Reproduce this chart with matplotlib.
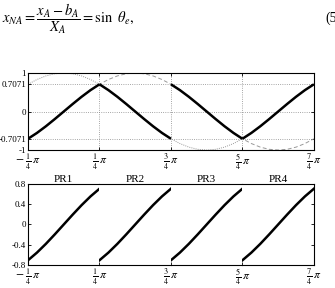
import numpy as np
import matplotlib
matplotlib.use("Agg")
import matplotlib.pyplot as plt

plt.rcParams['font.family'] = ['Liberation Serif', 'DejaVu Serif']
plt.rcParams['mathtext.fontset'] = 'stix'

# x samples in units of pi/16, from -pi/4 to 7pi/4
k_steps = list(range(-4, 29))
sin_curve = [-0.707, -0.556, -0.383, -0.195, 0.0, 0.195, 0.383, 0.556, 0.707,
             0.831, 0.924, 0.981, 1.0, 0.981, 0.924, 0.831, 0.707,
             0.556, 0.383, 0.195, 0.0, -0.195, -0.383, -0.556, -0.707,
             -0.831, -0.924, -0.981, -1.0, -0.981, -0.924, -0.831, -0.707]
cos_curve = [0.707, 0.831, 0.924, 0.981, 1.0, 0.981, 0.924, 0.831, 0.707,
             0.556, 0.383, 0.195, 0.0, -0.195, -0.383, -0.556, -0.707,
             -0.831, -0.924, -0.981, -1.0, -0.981, -0.924, -0.831, -0.707,
             -0.556, -0.383, -0.195, 0.0, 0.195, 0.383, 0.556, 0.707]
# which curve is active in each quarter-sector
sector_curve = ['sin', 'cos', 'sin', 'cos']
# normalised curve inside each sector (PR1..PR4)
pr_names = ['PR1', 'PR2', 'PR3', 'PR4']
pr_values = [-0.707, -0.556, -0.383, -0.195, 0.0, 0.195, 0.383, 0.556, 0.707]

top_yticks = [-1, -0.7071, 0, 0.7071, 1]
top_yticklabels = ['-1', '-0.7071', '0', '0.7071', '1']
edge_quarters = [-1, 1, 3, 5, 7]
edge_labels = [r'$-\ \frac{1}{4}\,\pi$', r'$\frac{1}{4}\,\pi$', r'$\frac{3}{4}\,\pi$',
               r'$\frac{5}{4}\,\pi$', r'$\frac{7}{4}\,\pi$']
bottom_yticks = [-0.8, -0.4, 0, 0.4, 0.8]
bottom_yticklabels = ['-0.8', '-0.4', '0', '0.4', '0.8']

x = np.array(k_steps) * np.pi / 16
curves = {'sin': np.array(sin_curve), 'cos': np.array(cos_curve)}
edges = np.array(edge_quarters) * np.pi / 4

fig = plt.figure(figsize=(3.35, 2.88), dpi=100)

fig.text(0.006, 0.935, r'$x_{NA} = \dfrac{x_A - b_A}{X_A} = \sin\ \theta_e,$',
         fontsize=10.5, ha='left', va='center')
fig.text(0.972, 0.935, '(5', fontsize=10, ha='left', va='center')

XLAB = 8.5

# top axes
ax = fig.add_axes([0.0836, 0.479, 0.8534, 0.2675])
ax.plot(x, curves['cos'], color='#999999', lw=0.7, ls=(0, (1, 1.2)))
ax.plot(x, curves['sin'], color='#999999', lw=0.7, ls=(0, (4, 2.5)))
for i, name in enumerate(sector_curve):
    seg = slice(8 * i, 8 * i + 9)
    ax.plot(x[seg], curves[name][seg], color='black', lw=1.8, solid_capstyle='butt')
ax.set_xlim(edges[0], edges[-1])
ax.set_ylim(-1, 1)
ax.set_yticks(top_yticks)
ax.set_yticklabels(top_yticklabels)
ax.set_xticks(edges)
ax.set_xticklabels(edge_labels)
ax.grid(True, color='#888888', ls=':', lw=0.6)
ax.tick_params(direction='in', length=2.5, width=0.6, labelsize=6.5, pad=1.5,
               top=True, right=True)
ax.tick_params(axis='x', labelsize=XLAB, pad=1.0)
for s in ax.spines.values():
    s.set_linewidth(0.8)

# bottom axes
left = 0.0836
total_w = 0.8534
w = total_w / 4
for i in range(4):
    b = fig.add_axes([left + i * w, 0.080, w, 0.281])
    xs = x[8 * i: 8 * i + 9]
    b.plot(xs, pr_values, color='black', lw=1.8)
    b.set_xlim(edges[i], edges[i + 1])
    b.set_ylim(-0.8, 0.8)
    b.set_yticks(bottom_yticks)
    b.set_title(pr_names[i], fontsize=8, pad=1.0)
    b.set_xticks([edges[i], edges[i + 1]])
    if i == 3:
        b.set_xticklabels([edge_labels[i], edge_labels[i + 1]])
    else:
        b.set_xticklabels([edge_labels[i], ''])
    if i == 0:
        b.set_yticklabels(bottom_yticklabels)
    else:
        b.set_yticklabels([])
    b.tick_params(direction='in', length=2.5, width=0.6, labelsize=6.5, pad=1.5,
                  left=(i == 0), right=(i == 3))
    b.tick_params(axis='x', labelsize=XLAB, pad=1.0)
    for s in b.spines.values():
        s.set_linewidth(0.8)
    if i > 0:
        b.spines['left'].set_visible(False)
    if i < 3:
        b.spines['right'].set_color('#888888')
        b.spines['right'].set_linestyle(':')
        b.spines['right'].set_linewidth(0.6)

fig.savefig('out.png', dpi=100)
